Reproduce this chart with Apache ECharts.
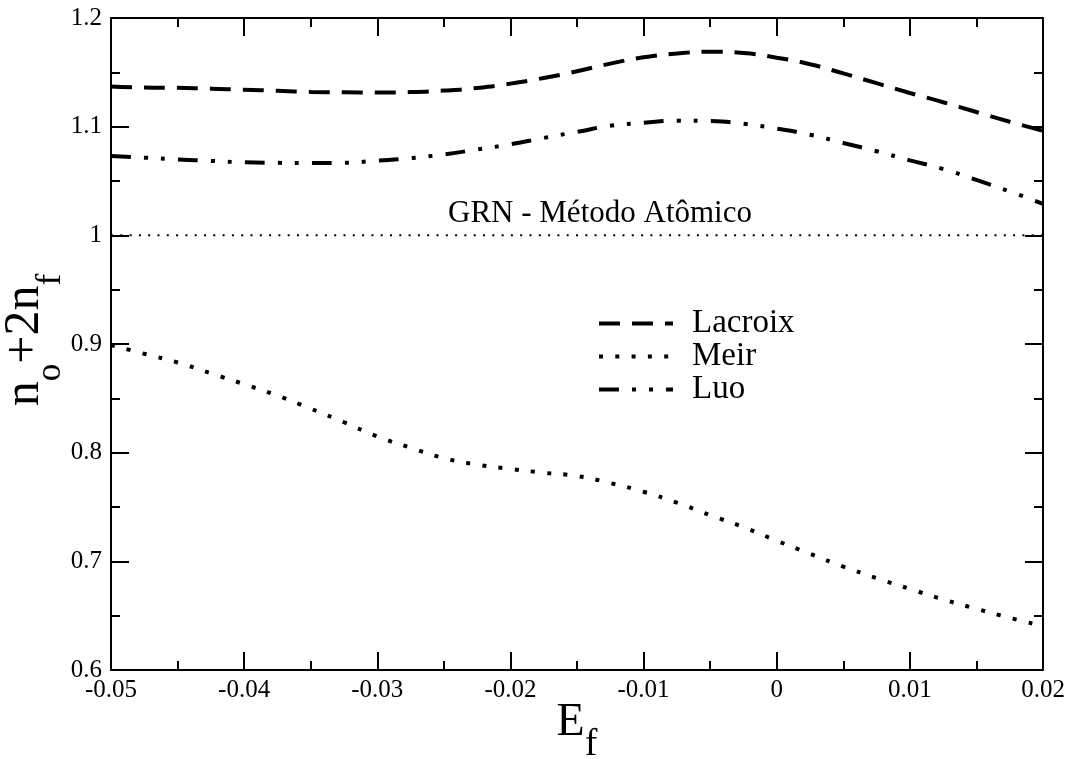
<!DOCTYPE html>
<html>
<head>
<meta charset="utf-8">
<script src="https://cdn.jsdelivr.net/npm/echarts@6/dist/echarts.min.js"></script>
<style>
html,body{margin:0;padding:0;background:#fff;}
#chart{width:1073px;height:759px;}
</style>
</head>
<body>
<div id="chart"></div>
<script>
const xValues = [-0.05, -0.0475, -0.045, -0.0425, -0.04, -0.0375, -0.035, -0.0325, -0.03, -0.0275, -0.025, -0.0225, -0.02, -0.0175, -0.015, -0.0125, -0.01, -0.0075, -0.005, -0.0025, 0, 0.0025, 0.005, 0.0075, 0.01, 0.0125, 0.015, 0.0175, 0.02];
const lacroix = [1.137, 1.136, 1.1357, 1.135, 1.134, 1.133, 1.132, 1.1316, 1.1314, 1.1318, 1.1332, 1.1356, 1.1396, 1.1448, 1.151, 1.158, 1.1638, 1.1673, 1.169, 1.1678, 1.1635, 1.1575, 1.149, 1.140, 1.131, 1.1225, 1.1135, 1.1045, 1.0962];
const meir = [0.899, 0.891, 0.883, 0.873, 0.863, 0.8525, 0.8405, 0.828, 0.815, 0.8045, 0.795, 0.789, 0.785, 0.7815, 0.7785, 0.772, 0.764, 0.754, 0.7425, 0.7315, 0.719, 0.707, 0.6952, 0.6846, 0.6746, 0.665, 0.6563, 0.648, 0.6405];
const luo = [1.073, 1.0715, 1.0698, 1.0685, 1.0672, 1.0667, 1.0665, 1.0668, 1.0687, 1.071, 1.0745, 1.079, 1.0838, 1.0896, 1.0952, 1.1008, 1.1036, 1.1055, 1.1052, 1.1027, 1.0982, 1.0926, 1.085, 1.0774, 1.069, 1.061, 1.051, 1.0404, 1.029];
const grnX = [-0.05, 0.02];
const grnY = [1.0, 1.0];
const seriesNames = ['Lacroix', 'Meir', 'Luo'];
const grnLabel = 'GRN - Método Atômico';

const FONT = '"Liberation Serif", "Times New Roman", serif';
const pair = (xs, ys) => xs.map((x, i) => [x, ys[i]]);

const tickCommon = {
  axisLine: {show: true, onZero: false, lineStyle: {color: '#000', width: 2}},
  axisTick: {show: true, inside: true, length: 18, lineStyle: {color: '#000', width: 2}},
  minorTick: {show: true, splitNumber: 2, length: 9, lineStyle: {color: '#000', width: 2}},
  splitLine: {show: false},
  minorSplitLine: {show: false}
};

const chart = echarts.init(document.getElementById('chart'));
chart.setOption({
  backgroundColor: '#fff',
  animation: false,
  grid: {left: 111, top: 18, right: 30, bottom: 89, containLabel: false, outerBoundsMode: 'none'},
  xAxis: [
    Object.assign({
      type: 'value', min: -0.05, max: 0.02, interval: 0.01, position: 'bottom',
      axisLabel: {show: true, color: '#000', fontFamily: FONT, fontSize: 25, margin: 8, showMinLabel: true, showMaxLabel: true, hideOverlap: false},
      name: '{m|E}{s|f}', nameLocation: 'middle', nameGap: 30, nameMoveOverlap: false,
      nameTextStyle: {color: '#000', rich: {
        m: {fontFamily: FONT, fontSize: 46, color: '#000', verticalAlign: 'bottom', padding: [0, 0, 18, 0]},
        s: {fontFamily: FONT, fontSize: 38, color: '#000', verticalAlign: 'bottom'}
      }}
    }, tickCommon),
    Object.assign({
      type: 'value', min: -0.05, max: 0.02, interval: 0.01, position: 'top',
      axisLabel: {show: false}
    }, tickCommon)
  ],
  yAxis: [
    Object.assign({
      type: 'value', min: 0.6, max: 1.2, interval: 0.1, position: 'left',
      axisLabel: {show: true, color: '#000', fontFamily: FONT, fontSize: 25, margin: 9, showMinLabel: true, showMaxLabel: true, hideOverlap: false},
      name: '{m0|n}{s|o}{m|+2n}{s|f}', nameLocation: 'middle', nameGap: 43, nameRotate: 90, nameMoveOverlap: false,
      nameTextStyle: {color: '#000', rich: {
        m0: {fontFamily: FONT, fontSize: 50, color: '#000', verticalAlign: 'bottom', padding: [0, 0, 18, 8]},
        m: {fontFamily: FONT, fontSize: 50, color: '#000', verticalAlign: 'bottom', padding: [0, 0, 18, 0]},
        s: {fontFamily: FONT, fontSize: 35, color: '#000', verticalAlign: 'bottom'}
      }}
    }, tickCommon),
    Object.assign({
      type: 'value', min: 0.6, max: 1.2, interval: 0.1, position: 'right',
      axisLabel: {show: false}
    }, tickCommon)
  ],
  legend: {
    data: seriesNames,
    orient: 'vertical',
    left: 597, top: 307, padding: 0,
    itemWidth: 74, itemHeight: 14, itemGap: 0,
    itemStyle: {opacity: 0, borderWidth: 0},
    lineStyle: {width: 4},
    textStyle: {color: '#000', fontFamily: FONT, fontSize: 33, lineHeight: 33, padding: [0, 0, 0, 14]},
    selectedMode: false
  },
  graphic: [{
    type: 'text',
    x: 600, y: 214,
    style: {text: grnLabel, fill: '#000', font: '31px ' + FONT, align: 'center', verticalAlign: 'middle'}
  }],
  series: [
    {name: 'Lacroix', type: 'line', data: pair(xValues, lacroix), smooth: true, symbol: 'none',
     lineStyle: {color: '#000', width: 4, type: [21, 12], cap: 'butt'}, itemStyle: {color: '#000'}},
    {name: 'Meir', type: 'line', data: pair(xValues, meir), smooth: true, symbol: 'none',
     lineStyle: {color: '#000', width: 4, type: [4, 12.3], cap: 'butt'}, itemStyle: {color: '#000'}},
    {name: 'Luo', type: 'line', data: pair(xValues, luo), smooth: true, symbol: 'none',
     lineStyle: {color: '#000', width: 4, type: [20, 13, 4, 13, 4, 13], cap: 'butt'}, itemStyle: {color: '#000'}},
    {name: 'GRN', type: 'line', data: pair(grnX, grnY), symbol: 'none',
     lineStyle: {color: '#000', width: 2, type: [2, 7.3], cap: 'butt'}, itemStyle: {color: '#000'}}
  ]
});
</script>
</body>
</html>
